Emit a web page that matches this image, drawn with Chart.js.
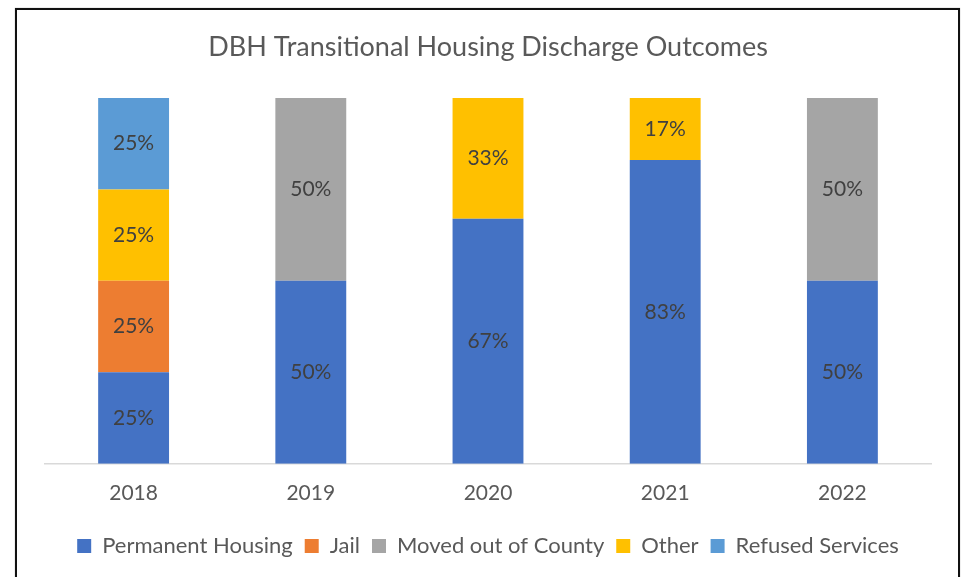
<!DOCTYPE html>
<html>
<head>
<meta charset="utf-8">
<script src="https://cdn.jsdelivr.net/npm/chart.js@4.4.1/dist/chart.umd.min.js"></script>
<style>
  body { margin: 0; background: #fff; }
  #wrap { position: relative; width: 967px; height: 577px; overflow: hidden; }
  #frame { position: absolute; left: 15px; top: 8px; width: 945px; height: 620px;
           box-sizing: border-box; border: 2px solid #111; box-shadow: 0 0 1px #999; pointer-events: none; }
</style>
</head>
<body>
<div id="wrap">
  <canvas id="outcomeChart" width="967" height="577"></canvas>
  <div id="frame"></div>
</div>
<script>
const years = ['2018', '2019', '2020', '2021', '2022'];
const permanentHousing = [25, 50, 67, 83, 50];
const jail = [25, 0, 0, 0, 0];
const movedOut = [0, 50, 0, 0, 50];
const other = [25, 0, 33, 17, 0];
const refused = [25, 0, 0, 0, 0];

const FONT = 'Lato, "Open Sans", sans-serif';

// draws the % value in the middle of each segment
const segmentLabels = {
    id: 'segmentLabels',
    afterDatasetsDraw(chart) {
        const ctx = chart.ctx;
        ctx.save();
        ctx.font = '21px ' + FONT;
        ctx.fillStyle = '#404040';
        ctx.textAlign = 'center';
        ctx.textBaseline = 'middle';
        chart.data.datasets.forEach((ds, i) => {
            const meta = chart.getDatasetMeta(i);
            meta.data.forEach((bar, j) => {
                const v = ds.data[j];
                if (!v) return;
                const p = bar.getCenterPoint();
                ctx.fillText(v + '%', p.x, p.y);
            });
        });
        ctx.restore();
    }
};

const ctx = document.getElementById('outcomeChart').getContext('2d');

const outcomeChart = new Chart(ctx, {
    type: 'bar',
    data: {
        labels: years,
        datasets: [
            { label: 'Permanent Housing', data: permanentHousing, backgroundColor: '#4472C4' },
            { label: 'Jail', data: jail, backgroundColor: '#ED7D31' },
            { label: 'Moved out of County', data: movedOut, backgroundColor: '#A5A5A5' },
            { label: 'Other', data: other, backgroundColor: '#FFC000' },
            { label: 'Refused Services', data: refused, backgroundColor: '#5B9BD5' }
        ]
    },
    options: {
        responsive: false,
        animation: false,
        layout: { padding: { left: 45, right: 36, top: 10, bottom: 10 } },
        datasets: { bar: { categoryPercentage: 1, barPercentage: 0.4 } },
        scales: {
            x: {
                stacked: true,
                grid: { display: false, drawTicks: false },
                border: { color: '#D9D9D9', width: 1.5 },
                ticks: { color: '#595959', font: { family: FONT, size: 21 }, padding: 17 }
            },
            y: {
                stacked: true,
                display: false,
                min: 0,
                max: 100
            }
        },
        plugins: {
            title: {
                display: true,
                text: 'DBH Transitional Housing Discharge Outcomes',
                color: '#595959',
                font: { family: FONT, size: 27, weight: 'normal' },
                padding: { top: 21.5, bottom: 34 }
            },
            legend: {
                position: 'bottom',
                labels: {
                    color: '#595959',
                    font: { family: FONT, size: 22 },
                    boxWidth: 14,
                    boxHeight: 14,
                    padding: 12
                }
            },
            tooltip: { enabled: false }
        }
    },
    plugins: [segmentLabels]
});
</script>
</body>
</html>
